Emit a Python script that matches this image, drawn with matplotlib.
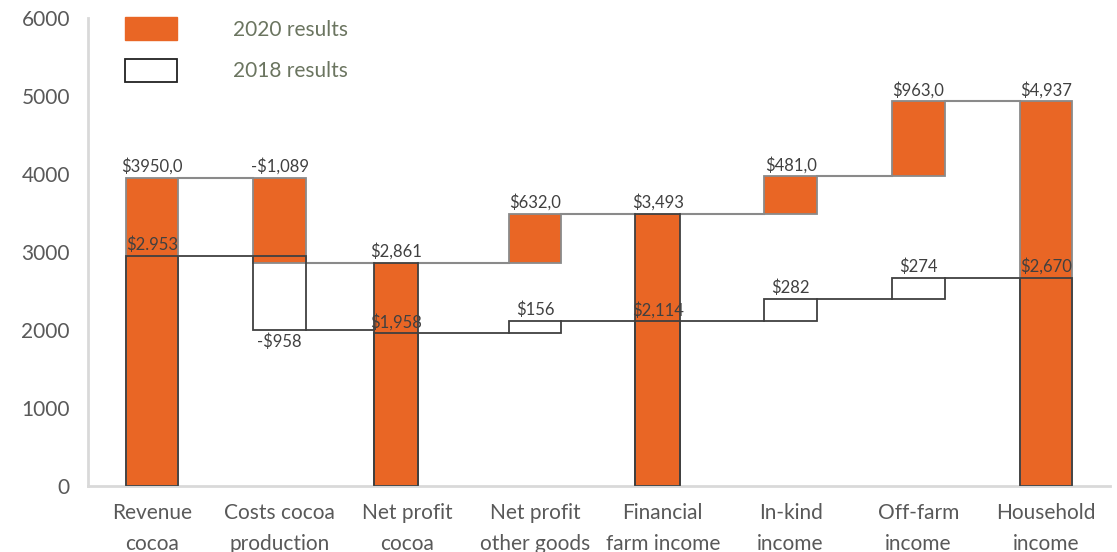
import matplotlib
matplotlib.use('Agg')
import matplotlib.pyplot as plt
from matplotlib.patches import Patch

plt.rcParams['font.family'] = ['Lato', 'DejaVu Sans']

# data
categories = ['Revenue\ncocoa', 'Costs cocoa\nproduction', 'Net profit\ncocoa',
              'Net profit\nother goods', 'Financial\nfarm income', 'In-kind\nincome',
              'Off-farm\nincome', 'Household\nincome']
is_total = [True, False, True, False, True, False, False, True]
vals_2020 = [3950, -1089, 2861, 632, 3493, 481, 963, 4937]
vals_2018 = [2953, -958, 1958, 156, 2114, 282, 274, 2670]
labels_2020 = ['$3950,0', '-$1,089', '$2,861', '$632,0', '$3,493', '$481,0', '$963,0', '$4,937']
labels_2018 = ['$2.953', '-$958', '$1,958', '$156', '$2,114', '$282', '$274', '$2,670']

# styles
orange = '#E96625'
dark = '#404040'
grey = '#8a8a8a'
widths = [0.41, 0.41, 0.35, 0.41, 0.35, 0.41, 0.41, 0.41]
shifts = [0, 0, -0.09, 0, -0.04, 0, 0, 0]
edge_2020 = [grey, grey, dark, grey, dark, grey, grey, grey]


def waterfall(vals):
    bottoms, heights, ends = [], [], []
    level = 0
    for v, tot in zip(vals, is_total):
        if tot:
            bottoms.append(0)
            heights.append(v)
            level = v
        else:
            bottoms.append(level if v > 0 else level + v)
            heights.append(abs(v))
            level += v
        ends.append(level)
    return bottoms, heights, ends


b20, h20, e20 = waterfall(vals_2020)
b18, h18, e18 = waterfall(vals_2018)
xs = [i + s for i, s in enumerate(shifts)]

fig = plt.figure(figsize=(11.17, 5.52), dpi=100)
ax = fig.add_axes([88 / 1117, 1 - 486 / 552, (1110 - 88) / 1117, (486 - 18) / 552])

ax.bar(xs, h20, bottom=b20, width=widths, color=orange, edgecolor=edge_2020,
       linewidth=1.3, zorder=2)
ax.bar(xs, h18, bottom=b18, width=widths, color='none', edgecolor=dark,
       linewidth=1.3, zorder=3)

# connectors
for i in range(len(categories) - 1):
    x0 = xs[i] + widths[i] / 2
    x1 = xs[i + 1] - widths[i + 1] / 2
    ax.plot([x0, x1], [e20[i], e20[i]], color=grey, lw=1.5, zorder=1)
    ax.plot([x0, x1], [e18[i], e18[i]], color=dark, lw=1.3, zorder=1)

# value labels
for i in range(len(categories)):
    top20 = b20[i] + h20[i]
    ax.annotate(labels_2020[i], (xs[i], top20), xytext=(0, 2), textcoords='offset points',
                ha='center', va='bottom', fontsize=12, color=dark, zorder=5)
    if vals_2018[i] < 0:
        ax.annotate(labels_2018[i], (xs[i], b18[i]), xytext=(0, -2), textcoords='offset points',
                    ha='center', va='top', fontsize=12, color=dark, zorder=5)
    else:
        ax.annotate(labels_2018[i], (xs[i], b18[i] + h18[i]), xytext=(0, 2),
                    textcoords='offset points', ha='center', va='bottom',
                    fontsize=12, color=dark, zorder=5)

ax.set_xlim(-0.5, 7.5)
ax.set_ylim(0, 6000)
ax.set_yticks(range(0, 6001, 1000))
ax.set_xticks(range(len(categories)))
ax.set_xticklabels(categories, linespacing=1.7)
ax.tick_params(axis='both', length=0, labelsize=15, colors='#595959')
ax.tick_params(axis='y', pad=13)
ax.tick_params(axis='x', pad=12)
for s in ['top', 'right']:
    ax.spines[s].set_visible(False)
for s in ['left', 'bottom']:
    ax.spines[s].set_color('#d9d9d9')
    ax.spines[s].set_linewidth(2)

handles = [Patch(facecolor=orange, edgecolor=orange, label='2020 results'),
           Patch(facecolor='white', edgecolor='#222222', linewidth=1.3, label='2018 results')]
leg = ax.legend(handles=handles, loc='upper left', bbox_to_anchor=(0.018, 1.042),
                frameon=False, fontsize=15, handlelength=2.5, handleheight=1.34,
                handletextpad=2.7, labelspacing=0.88)
for t in leg.get_texts():
    t.set_color('#6b7560')

fig.savefig('out.png', dpi=100)
